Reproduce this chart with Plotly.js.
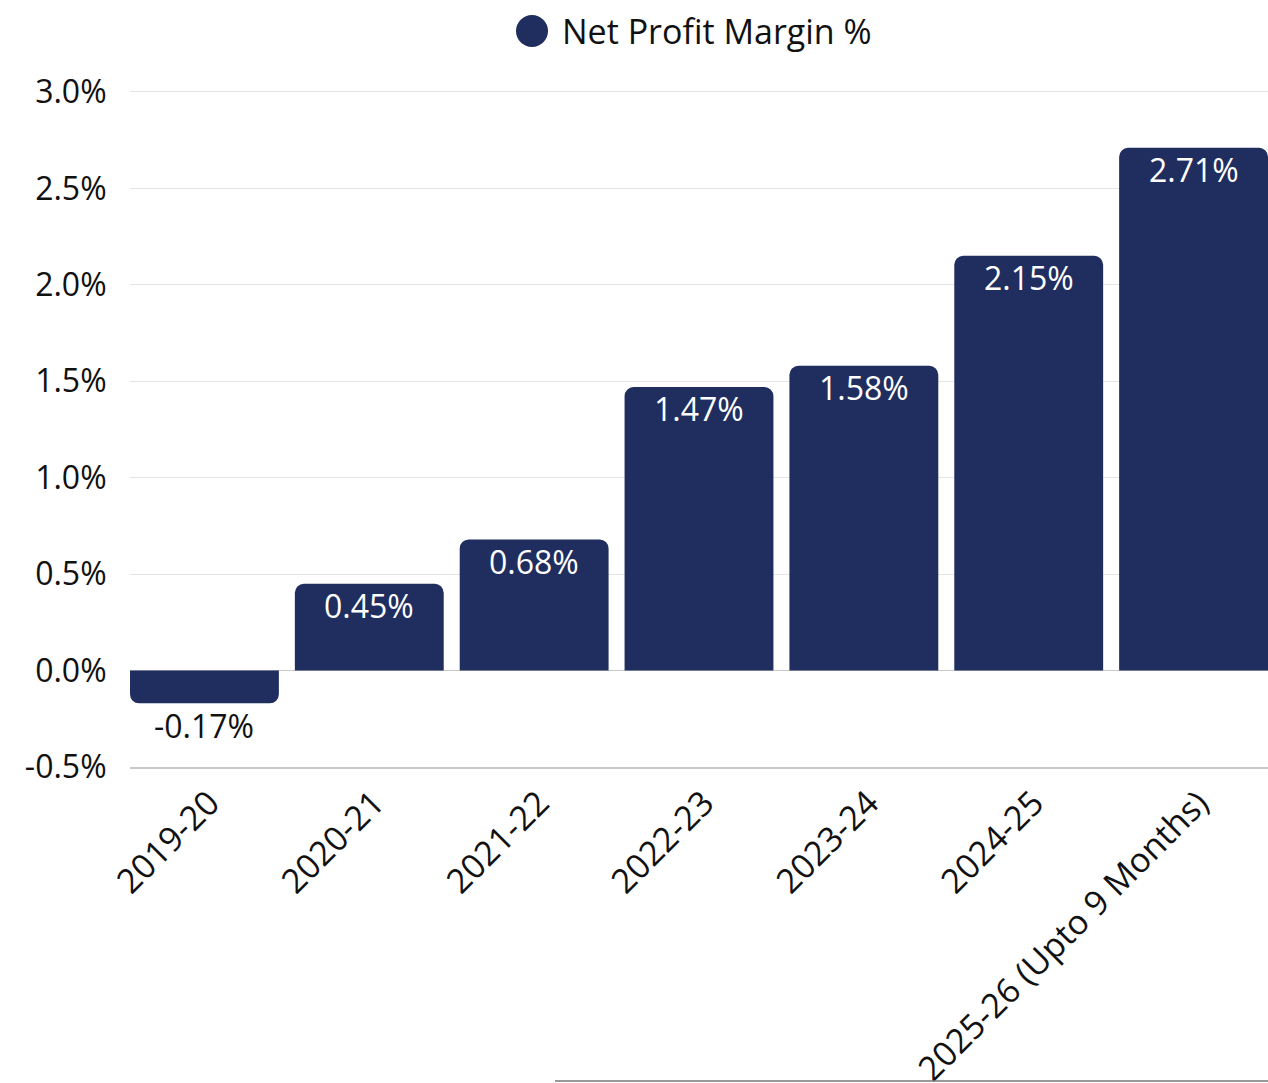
<!DOCTYPE html>
<html>
<head>
<meta charset="utf-8">
<script src="https://cdn.plot.ly/plotly-3.0.1.min.js"></script>
<style>html,body{margin:0;padding:0;background:#fff;}#chart{width:1268px;height:1083px;}</style>
</head>
<body>
<div id="chart"></div>
<script>
var categories = ["2019-20", "2020-21", "2021-22", "2022-23", "2023-24", "2024-25", "2025-26 (Upto 9 Months)"];
var netProfitMargin = [-0.17, 0.45, 0.68, 1.47, 1.58, 2.15, 2.71];
var yTickValues = [-0.5, 0, 0.5, 1.0, 1.5, 2.0, 2.5, 3.0];
var yTickLabels = ["-0.5%", "0.0%", "0.5%", "1.0%", "1.5%", "2.0%", "2.5%", "3.0%"];
var seriesName = "Net Profit Margin %";

var barColor = "#1f2d5f";
var fontFamily = "'Open Sans', 'Noto Sans', sans-serif";

var trace = {
  type: "bar",
  x: categories,
  y: netProfitMargin,
  name: seriesName,
  showlegend: false,
  marker: {color: barColor},
  hoverinfo: "x+y"
};

var valueLabels = categories.map(function(c, i){
  var v = netProfitMargin[i];
  return {
    x: c, y: v, xref: "x", yref: "y",
    text: v.toFixed(2) + "%",
    showarrow: false,
    xanchor: "center", yanchor: "middle",
    yshift: -22,
    font: {family: fontFamily, size: 32, color: v < 0 ? "#111111" : "#ffffff"}
  };
});

// plot area: x 130..1268, y 88..767
var L = 130, T = 88, W = 1138, H = 679;
function px(x){ return (x - L) / W; }
function py(y){ return (T + H - y) / H; }

var layout = {
  width: 1268,
  height: 1083,
  margin: {l: L, r: 1268 - L - W, t: T, b: 1083 - T - H, pad: 0},
  paper_bgcolor: "#ffffff",
  plot_bgcolor: "#ffffff",
  font: {family: fontFamily, color: "#111111"},
  bargap: 0.097,
  barcornerradius: 9,
  showlegend: false,
  xaxis: {
    type: "category",
    range: [-0.4515, 6.4515],
    tickangle: -45,
    tickfont: {family: fontFamily, size: 34, color: "#111111"},
    ticks: "outside",
    ticklen: 1,
    ticklabelshift: 5,
    tickcolor: "rgba(0,0,0,0)",
    showgrid: false,
    showline: true,
    linecolor: "#c8c8c8",
    linewidth: 1.5,
    automargin: false
  },
  yaxis: {
    range: [-0.5, 3.02],
    tickvals: yTickValues,
    ticktext: yTickLabels,
    tickfont: {family: fontFamily, size: 32, color: "#111111"},
    ticks: "outside",
    ticklen: 16,
    tickcolor: "rgba(0,0,0,0)",
    showgrid: true,
    gridcolor: "#e4e4e4",
    gridwidth: 1,
    zeroline: true,
    zerolinecolor: "#c8c8c8",
    zerolinewidth: 1.2,
    showline: false,
    automargin: false
  },
  shapes: [
    {type: "circle", xref: "paper", yref: "paper",
     x0: px(516), x1: px(548), y0: py(47), y1: py(15),
     fillcolor: barColor, line: {width: 0}},
    {type: "line", xref: "paper", yref: "paper",
     x0: px(555), x1: 1, y0: py(1081), y1: py(1081),
     line: {color: "#777777", width: 1.5}}
  ],
  annotations: [
    {xref: "paper", yref: "paper", x: px(560), y: py(31),
     xanchor: "left", yanchor: "middle", showarrow: false,
     text: seriesName, font: {family: fontFamily, size: 34, color: "#111111"}}
  ].concat(valueLabels)
};

Plotly.newPlot("chart", [trace], layout, {displayModeBar: false, staticPlot: true});
</script>
</body>
</html>
